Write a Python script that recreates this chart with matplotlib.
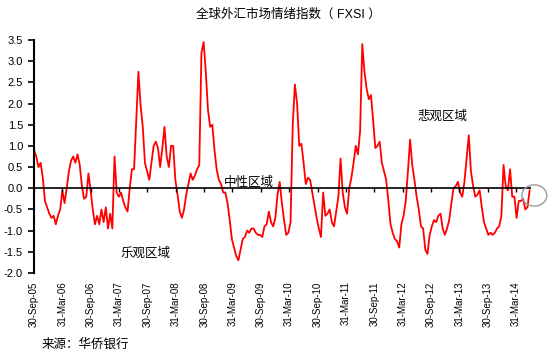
import matplotlib
matplotlib.use("Agg")
import matplotlib.pyplot as plt
import matplotlib.dates as mdates
from matplotlib.patches import Ellipse
import pandas as pd

plt.rcParams['font.family'] = ['Liberation Sans', 'Noto Sans CJK SC', 'DejaVu Sans']

# FXSI readings, one every two weeks from 30-Sep-05
fxsi = [
    0.9, 0.75, 0.5, 0.6, 0.25, -0.3, -0.45, -0.6, -0.7, -0.65,
    -0.85, -0.65, -0.5, -0.05, -0.35, 0.0, 0.4, 0.65, 0.75, 0.6,
    0.8, 0.55, 0.05, -0.25, -0.2, 0.35, -0.05, -0.5, -0.85, -0.65,
    -0.85, -0.5, -0.8, -0.45, -0.95, -0.6, -0.95, 0.75, -0.1, -0.2,
    -0.1, -0.3, -0.45, -0.55, 0.0, 0.45, 0.45, 1.6, 2.75, 1.95,
    1.45, 0.6, 0.4, 0.2, 0.6, 1.0, 1.1, 0.95, 0.5, 0.95,
    1.45, 0.75, 0.5, 1.0, 1.0, 0.2, -0.15, -0.55, -0.7, -0.5,
    -0.15, 0.1, 0.35, 0.2, 0.3, 0.45, 0.55, 3.2, 3.45, 2.75,
    1.85, 1.45, 1.5, 0.9, 0.45, 0.2, 0.1, -0.1, -0.1, -0.35,
    -0.75, -1.2, -1.4, -1.6, -1.7, -1.45, -1.2, -1.15, -1.0, -1.05,
    -0.95, -0.95, -1.05, -1.1, -1.1, -1.15, -0.9, -0.85, -0.55, -0.8,
    -0.9, -0.7, -0.15, 0.15, -0.35, -0.75, -1.1, -1.05, -0.8, 1.5,
    2.45, 2.0, 1.0, 1.05, 0.6, 0.1, 0.25, 0.2, -0.1, -0.4,
    -0.7, -0.95, -1.15, -0.1, -0.65, -0.6, -0.5, -0.8, -0.9, -0.55,
    -0.2, 0.7, -0.1, -0.45, -0.6, 0.0, 0.25, 0.6, 1.0, 0.8,
    1.35, 3.4, 2.75, 2.35, 2.1, 2.2, 1.6, 0.95, 1.0, 1.1,
    0.6, 0.4, 0.2, -0.3, -0.85, -1.05, -1.2, -1.25, -1.4, -0.85,
    -0.65, -0.3, 0.4, 1.15, 0.55, 0.2, -0.2, -0.5, -0.9, -0.95,
    -1.45, -1.55, -1.1, -0.9, -0.75, -0.8, -0.65, -0.6, -0.95, -1.1,
    -0.95, -0.75, -0.35, 0.0, 0.05, 0.15, -0.1, -0.2, 0.15, 0.7,
    1.25, 0.4, 0.05, -0.2, -0.15, -0.05, -0.45, -0.8, -0.95, -1.1,
    -1.05, -1.1, -1.05, -0.95, -0.9, -0.65, 0.55, 0.05, -0.05, 0.45,
    -0.2, -0.2, -0.7, -0.3, -0.3, -0.25, -0.5, -0.45, -0.05,
]
dates = pd.date_range('2005-09-30', periods=len(fxsi), freq='14D')

tick_dates = ['2005-09-30', '2006-03-31', '2006-09-30', '2007-03-31', '2007-09-30',
              '2008-03-31', '2008-09-30', '2009-03-31', '2009-09-30', '2010-03-31',
              '2010-09-30', '2011-03-31', '2011-09-30', '2012-03-31', '2012-09-30',
              '2013-03-31', '2013-09-30', '2014-03-31']
tick_dates = pd.to_datetime(tick_dates)
y_ticks = [-2.0, -1.5, -1.0, -0.5, 0.0, 0.5, 1.0, 1.5, 2.0, 2.5, 3.0, 3.5]

fig = plt.figure(figsize=(5.5, 3.57), dpi=100)
ax = fig.add_axes([0.062, 0.2353, 0.9035, 0.6527])

ax.plot(dates, fxsi, color='#ff0000', lw=1.3)
ax.axhline(0, color='black', lw=1.2, zorder=3)
ax.plot(tick_dates, [0] * len(tick_dates), ls='none', marker=3, ms=3,
        mew=1, color='black', zorder=3)

ax.set_xlim(pd.Timestamp('2005-09-30'), pd.Timestamp('2014-07-06'))
ax.set_ylim(-2.0, 3.5)
ax.set_yticks(y_ticks)
ax.set_yticklabels(['%.1f' % v for v in y_ticks], fontsize=8)
ax.set_xticks(tick_dates)
ax.xaxis.set_major_formatter(mdates.DateFormatter('%d-%b-%y'))
ax.tick_params(axis='x', length=0, pad=6, labelsize=7, labelrotation=90)
ax.tick_params(axis='y', length=4, width=1.2, pad=4, direction='out')

for s in ['top', 'right', 'bottom']:
    ax.spines[s].set_visible(False)
ax.spines['left'].set_linewidth(1.5)

# grey circle marking the latest reading
circ = Ellipse((mdates.date2num(pd.Timestamp('2014-07-27')), -0.17), 161, 0.5,
               fill=False, edgecolor='#999999', lw=1.0, clip_on=False, zorder=4)
ax.add_patch(circ)

fig.text(0.524, 0.958, '全球外汇市场情绪指数（ FXSI ）', ha='center', va='center', fontsize=9)
fig.text(0.804, 0.672, '悲观区域', ha='center', va='center', fontsize=9)
fig.text(0.453, 0.487, '中性区域', ha='center', va='center', fontsize=9)
fig.text(0.265, 0.291, '乐观区域', ha='center', va='center', fontsize=9)
fig.text(0.076, 0.034, '来源：华侨银行', ha='left', va='center', fontsize=9)

fig.savefig('out.png', dpi=100)
